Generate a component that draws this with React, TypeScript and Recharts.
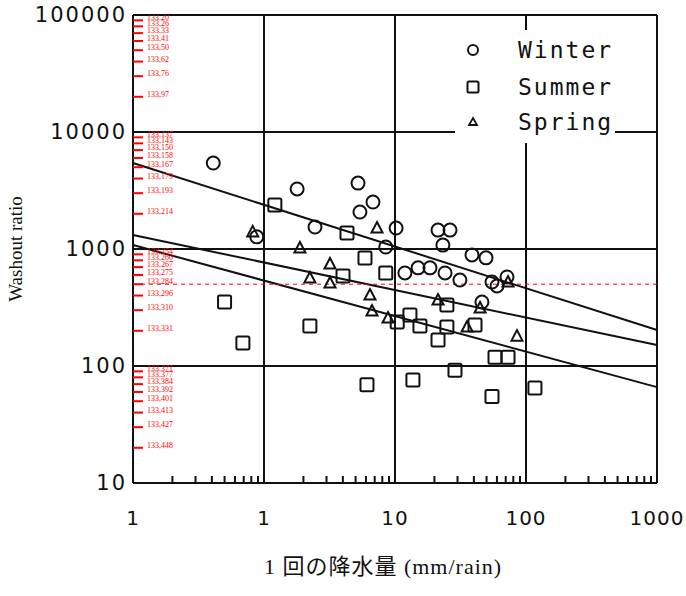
import React from "react";
import {
  CartesianGrid,
  Legend,
  ReferenceLine,
  Scatter,
  ScatterChart,
  XAxis,
  YAxis,
} from "recharts";

// axis ticks (major) and their printed labels
const xMajor = [0.1, 1, 10, 100, 1000];
const xTickLabels = ["1", "1", "10", "100", "1000"];
const yMajor = [10, 100, 1000, 10000, 100000];
const yTickLabels = ["10", "100", "1000", "10000", "100000"];

// points: [rain per event (mm), washout ratio]
const winterPts: [number, number][] = [
  [0.41, 5430], [1.79, 3260], [5.22, 3660], [6.79, 2520], [5.4, 2070],
  [2.45, 1540], [0.88, 1270], [10.2, 1510], [8.5, 1040], [21.3, 1450],
  [26.3, 1450], [23.2, 1080], [38.7, 890], [49.5, 840], [11.9, 624],
  [15.0, 690], [18.5, 690], [24.1, 624], [31.3, 543], [55.0, 522],
  [60.1, 483], [71.6, 577], [46.1, 352],
];
const summerPts: [number, number][] = [
  [1.21, 2380], [4.3, 1370], [0.5, 352], [0.69, 157], [2.24, 220],
  [6.11, 69], [5.9, 838], [13.7, 76], [4.01, 587], [8.5, 624],
  [10.4, 238], [13.0, 273], [15.5, 220], [21.3, 167], [24.9, 215],
  [24.9, 332], [40.8, 224], [28.7, 92], [58.0, 119], [72.9, 119],
  [55.0, 55], [117, 65],
];
const springPts: [number, number][] = [
  [0.82, 1400], [7.29, 1510], [1.88, 1020], [2.24, 565], [3.19, 745],
  [3.19, 512], [6.44, 404], [6.67, 295], [8.85, 257], [21.3, 366],
  [35.5, 215], [44.6, 313], [72.9, 522], [85.3, 180],
];

// regression lines, value at x = 0.1 and x = 1000
const fitUpper: [number, number][] = [[0.1, 5430], [1000, 203]];
const fitMiddle: [number, number][] = [[0.1, 1318], [1000, 151]];
const fitLower: [number, number][] = [[0.1, 1081], [1000, 66]];

// log minor tick values (2..9 in each decade)
const minorOf = (majors: number[]) =>
  majors
    .slice(0, -1)
    .flatMap((m) => [2, 3, 4, 5, 6, 7, 8, 9].map((k) => +(m * k).toPrecision(3)));

const xMinor = minorOf(xMajor);
const yMinor = minorOf(yMajor);

const toObj = (pts: [number, number][]) => pts.map(([x, y]) => ({ x, y }));

// minor tick marks sit on the left / bottom edges of the frame
const yMinorMarks = yMinor.map((y) => ({ x: xMajor[0], y }));
const xMinorMarks = xMinor.map((x) => ({ x, y: yMajor[0] }));

const ink = "#111";
const numFont = "'DejaVu Sans', sans-serif";

function YTick(props: any) {
  const { x, y, payload } = props;
  const i = yMajor.indexOf(payload.value);
  return (
    <text x={x} y={y} textAnchor="end" dominantBaseline="central"
      fontFamily={numFont} fontSize={21} letterSpacing={2} fill={ink}>
      {i >= 0 ? yTickLabels[i] : ""}
    </text>
  );
}

function XTick(props: any) {
  const { x, y, payload } = props;
  const i = xMajor.indexOf(payload.value);
  return (
    <text x={x} y={y} dy="0.72em" textAnchor="middle"
      fontFamily={numFont} fontSize={20} letterSpacing={1} fill={ink}>
      {i >= 0 ? xTickLabels[i] : ""}
    </text>
  );
}

const HStub = (p: any) => (
  <g>
    <rect x={Number(p.cx) - 10} y={Number(p.cy) - 1} width={20} height={2} fill="red" />
    <text x={Number(p.cx) + 14} y={Number(p.cy)} fontSize={8} fill="red">
      {`${Math.round(p.cx)},${Math.round(p.cy)}`}
    </text>
  </g>
);
const VStub = (p: any) => (
  <rect x={Number(p.cx) - 1} y={Number(p.cy) - 7} width={2} height={7} fill={ink} />
);

const Ring = (p: any) => (
  <circle cx={p.cx} cy={p.cy} r={6.5} fill="none" stroke={ink} strokeWidth={2} />
);
const Box = (p: any) => (
  <rect x={p.cx - 6.5} y={p.cy - 6.5} width={13} height={13} rx={1.5}
    fill="none" stroke={ink} strokeWidth={2} />
);
const Tri = (p: any) => (
  <path d={`M${p.cx},${p.cy - 6} L${p.cx + 5.5},${p.cy + 4.5} L${p.cx - 5.5},${p.cy + 4.5} Z`}
    fill="none" stroke={ink} strokeWidth={2} />
);

function LegendBox() {
  const mono = "'DejaVu Sans Mono', monospace";
  const rows = [
    { label: "Winter", y: 20 },
    { label: "Summer", y: 57 },
    { label: "Spring", y: 92 },
  ];
  return (
    <svg width={160} height={113} style={{ display: "block" }}>
      <circle cx={18} cy={rows[0].y} r={5} fill="none" stroke={ink} strokeWidth={2} />
      <rect x={12.5} y={rows[1].y - 5.5} width={11} height={11} rx={1.5}
        fill="none" stroke={ink} strokeWidth={2} />
      <path d={`M18,${rows[2].y - 4} L22,${rows[2].y + 3} L14,${rows[2].y + 3} Z`}
        fill="none" stroke={ink} strokeWidth={1.8} />
      {rows.map((r) => (
        <text key={r.label} x={63} y={r.y} dominantBaseline="central"
          fontFamily={mono} fontSize={23} letterSpacing={2} fill={ink}>
          {r.label}
        </text>
      ))}
    </svg>
  );
}

export default function App() {
  return (
    <div style={{ position: "absolute", left: 0, top: 0, background: "#fff" }}>
      <ScatterChart width={686} height={596}
        margin={{ top: 15, right: 29, bottom: 0, left: 0 }}>
        <CartesianGrid stroke={ink} strokeWidth={2}
          horizontalValues={yMajor} verticalValues={xMajor} />
        <XAxis type="number" dataKey="x" scale="log" domain={[0.1, 1000]}
          allowDataOverflow ticks={xMajor} interval={0} height={113}
          axisLine={false} tickLine={false} tickSize={0} tickMargin={28}
          tick={<XTick />}
          label={{
            value: "1 回の降水量 (mm/rain)",
            position: "insideBottom",
            offset: 22,
            dx: -12,
            style: {
              fontFamily: "'Liberation Serif', 'Noto Sans CJK JP', serif",
              fontSize: 22,
              letterSpacing: 1,
              fill: ink,
            },
          }} />
        <YAxis type="number" dataKey="y" scale="log" domain={[10, 100000]}
          allowDataOverflow ticks={yMajor} interval={0} width={133}
          axisLine={false} tickLine={false} tickSize={0} tickMargin={6}
          tick={<YTick />}
          label={{
            value: "Washout ratio",
            angle: -90,
            position: "insideLeft",
            offset: 15,
            style: {
              textAnchor: "middle",
              fontFamily: "'Liberation Serif', serif",
              fontSize: 19,
              fill: ink,
            },
          }} />
        {[fitUpper, fitMiddle, fitLower].map((f, i) => (
          <ReferenceLine key={i} segment={toObj(f)} stroke={ink} strokeWidth={2} />
        ))}
        <ReferenceLine y={500} stroke="red" strokeDasharray="4 4" />
        <Scatter data={yMinorMarks} shape={HStub} legendType="none" isAnimationActive={false} />
        <Scatter data={xMinorMarks} shape={VStub} legendType="none" isAnimationActive={false} />
        <Scatter name="Winter" data={toObj(winterPts)} shape={Ring} isAnimationActive={false} />
        <Scatter name="Summer" data={toObj(summerPts)} shape={Box} isAnimationActive={false} />
        <Scatter name="Spring" data={toObj(springPts)} shape={Tri} isAnimationActive={false} />
        <Legend layout="vertical" align="center" verticalAlign="middle"
          content={<LegendBox />}
          wrapperStyle={{ left: 455, top: 30, width: 160, height: 113, background: "#fff" }} />
      </ScatterChart>
    </div>
  );
}
